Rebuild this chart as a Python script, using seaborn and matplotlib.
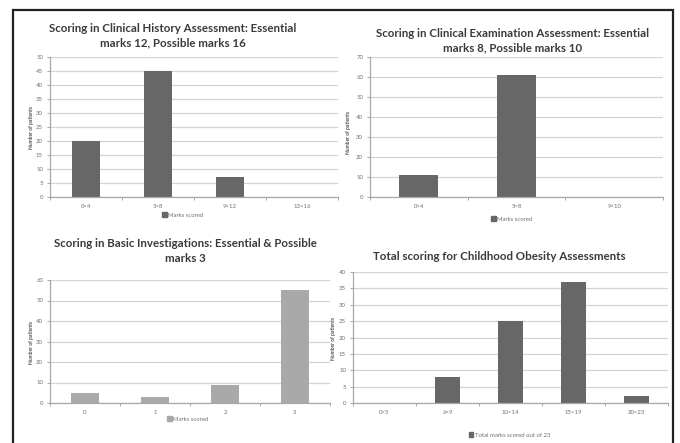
import numpy as np
import pandas as pd
import seaborn as sns
import matplotlib.pyplot as plt
from matplotlib.patches import Patch, Rectangle

#
# data
#

history_bins   = ["0<4", "5<8", "9<12", "13<16"]
history_counts = [20, 45, 7, 0]

exam_bins   = ["0<4", "5<8", "9<10"]
exam_counts = [11, 61, 0]

invest_bins   = ["0", "1", "2", "3"]
invest_counts = [5, 3, 9, 55]

total_bins   = ["0<5", "6<9", "10<14", "15<19", "20<23"]
total_counts = [0, 8, 25, 37, 2]

dark  = "#676767"
light = "#a9a9a9"

sns.set_theme(style="white")
plt.rcParams['font.family'] = ['Lato', 'DejaVu Sans']

W, H = 680, 443
fig = plt.figure(figsize=(W / 100, H / 100), dpi=100)


def rect(x0, y0, x1, y1):
    # pixel box -> figure fraction [left, bottom, width, height]
    return [x0 / W, 1 - y1 / H, (x1 - x0) / W, (y1 - y0) / H]


def panel(box, bins, counts, ymax, ystep, color, title, title_xy, legend_label, legend_xy, ylab_xy):
    ax = fig.add_axes(rect(*box))
    df = pd.DataFrame({"bin": bins, "count": counts})
    sns.barplot(data=df, x="bin", y="count", color=color, width=0.4, ax=ax,
                saturation=1, linewidth=0)
    ax.set_ylim(0, ymax)
    ax.set_xlim(-0.5, len(bins) - 0.5)
    ax.set_yticks(np.arange(0, ymax + 1, ystep))
    ax.yaxis.grid(True, color="#d4d4d4", linewidth=0.9)
    ax.set_axisbelow(True)
    ax.set_xlabel("")
    ax.set_ylabel("")
    for s in ["top", "right"]:
        ax.spines[s].set_visible(False)
    for s in ["left", "bottom"]:
        ax.spines[s].set_color("#a8a8a8")
        ax.spines[s].set_linewidth(0.9)
    # category separators on the x axis like the spreadsheet charts
    ax.set_xticks(np.arange(-0.5, len(bins)), minor=True)
    ax.tick_params(axis="x", which="minor", length=2.5, color="#a8a8a8", width=0.7, bottom=True)
    ax.tick_params(axis="x", which="major", length=0, labelsize=4.3, labelcolor="#707070", pad=5)
    ax.tick_params(axis="y", length=2.5, color="#a8a8a8", width=0.7, left=True,
                   labelsize=4.3, labelcolor="#707070", pad=2.5)
    fig.text(title_xy[0] / W, 1 - title_xy[1] / H, title, ha="center", va="center",
             fontsize=8.3, fontweight="bold", color="#3a3a3a", linespacing=1.4)
    fig.text(ylab_xy[0] / W, 1 - ylab_xy[1] / H, "Number of patients", rotation=90,
             ha="center", va="center", fontsize=3.6, fontweight="bold", color="#555555")
    ax.legend(handles=[Patch(color=color, label=legend_label)], loc="center",
              bbox_to_anchor=(legend_xy[0] / W, 1 - legend_xy[1] / H),
              bbox_transform=fig.transFigure, frameon=False, fontsize=4.3,
              handlelength=0.7, handleheight=0.7, handletextpad=0.3, labelcolor="#707070")
    return ax


panel((50, 57, 338, 197), history_bins, history_counts, 50, 5, dark,
      "Scoring in Clinical History Assessment: Essential\nmarks 12, Possible marks 16", (173, 36),
      "Marks scored", (183, 215), (32, 127))

panel((370, 57, 663, 197), exam_bins, exam_counts, 70, 10, dark,
      "Scoring in Clinical Examination Assessment: Essential\nmarks 8, Possible marks 10", (513, 41),
      "Marks scored", (512, 219), (349, 132))

panel((50, 280, 330, 403), invest_bins, invest_counts, 60, 10, light,
      "Scoring in Basic Investigations: Essential & Possible\nmarks 3", (185, 251),
      "Marks scored", (188, 419), (31, 342))

panel((353, 272, 668, 403), total_bins, total_counts, 40, 5, dark,
      "Total scoring for Childhood Obesity Assessments", (499, 257),
      "Total marks scored out of 23", (510, 435), (334, 338))

# outer frame of the figure panel
fig.patches.append(Rectangle((13 / W, -0.05), (673 - 13) / W, 1 - 10 / H + 0.05,
                             transform=fig.transFigure, fill=False,
                             edgecolor="#222222", linewidth=1.6))

fig.savefig("out.png", dpi=100)
